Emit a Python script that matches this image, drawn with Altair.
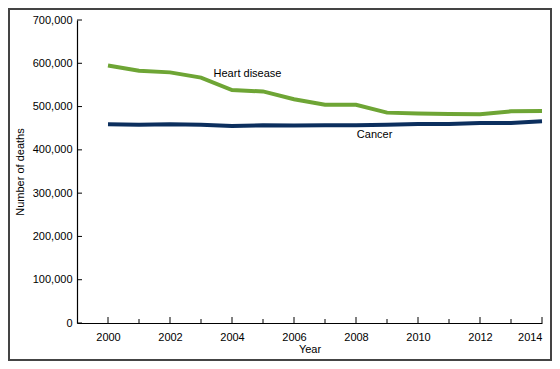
import altair as alt
import pandas as pd

years = list(range(2000, 2015))
heart = [595000, 583000, 579000, 567000, 538000, 535000, 517000, 504000, 504000,
         486000, 484000, 483000, 482000, 489000, 490000]
cancer = [459000, 458000, 459000, 458000, 455000, 457000, 456000, 457000, 457000,
          458000, 460000, 460000, 462000, 462000, 466000]
label_names = ["Heart disease", "Cancer"]
label_x = [2004.5, 2008.6]
label_y = [575000, 434000]
y_ticks = [0, 100000, 200000, 300000, 400000, 500000, 600000, 700000]
x_major = [2000, 2002, 2004, 2006, 2008, 2010, 2012, 2014]
x_minor = [2001, 2003, 2005, 2007, 2009, 2011, 2013]

W, H = 465, 303
FONT = "Liberation Sans"

df = pd.DataFrame({
    "Year": years * 2,
    "Deaths": heart + cancer,
    "Cause": ["Heart disease"] * len(years) + ["Cancer"] * len(years),
})
lab = pd.DataFrame({"x": label_x, "y": label_y, "t": label_names})

xs = alt.Scale(domain=[1999, 2014], nice=False, zero=False)
ys = alt.Scale(domain=[0, 700000], nice=False)
XAX = alt.Axis(values=x_major, format="d", tickSize=0, labelPadding=8,
               title="Year", titlePadding=1, grid=False,
               domainColor="#000", domainWidth=1.2)
YAX = alt.Axis(values=y_ticks, format=",d", tickSize=0, labelPadding=5,
               title="Number of deaths", titlePadding=7, grid=False,
               domainColor="#000", domainWidth=1.2)

lines = alt.Chart(df).mark_line(strokeWidth=4).encode(
    x=alt.X("Year:Q", scale=xs, axis=XAX),
    y=alt.Y("Deaths:Q", scale=ys, axis=YAX),
    color=alt.Color("Cause:N", scale=alt.Scale(domain=["Heart disease", "Cancer"],
                                               range=["#6ea535", "#0c2f5e"]),
                    legend=None),
)

texts = alt.Chart(lab).mark_text(font=FONT, fontSize=11, color="#000").encode(
    x=alt.X("x:Q", scale=xs, axis=XAX), y=alt.Y("y:Q", scale=ys, axis=YAX), text="t:N")

yt = alt.Chart(pd.DataFrame({"v": y_ticks})).mark_rule(color="#000", strokeWidth=1).encode(
    y=alt.Y("v:Q", scale=ys, axis=YAX), x=alt.value(0), x2=alt.value(5))
xt = alt.Chart(pd.DataFrame({"v": x_major})).mark_rule(color="#000", strokeWidth=1).encode(
    x=alt.X("v:Q", scale=xs, axis=XAX), y=alt.value(H), y2=alt.value(H - 6))
xm = alt.Chart(pd.DataFrame({"v": x_minor})).mark_rule(color="#000", strokeWidth=1).encode(
    x=alt.X("v:Q", scale=xs, axis=XAX), y=alt.value(H), y2=alt.value(H - 4))

border = alt.Chart(pd.DataFrame({"a": [0]})).mark_rect(
    fill=None, stroke="#444444", strokeWidth=2).encode(
    x=alt.value(-68), x2=alt.value(W + 9), y=alt.value(-11), y2=alt.value(H + 37))

chart = alt.layer(lines, border, yt, xt, xm, texts).properties(
    width=W, height=H,
    padding={"left": 69, "top": 12, "right": 10, "bottom": 38},
    autosize=alt.AutoSizeParams(type="none"),
    background="white",
).configure_view(stroke=None).configure_axis(
    labelFont=FONT, titleFont=FONT, labelFontSize=11, titleFontSize=11,
    labelColor="#000", titleColor="#000", titleFontWeight="normal",
)

chart.save("out.html", embed_options={"renderer": "svg", "actions": False})
